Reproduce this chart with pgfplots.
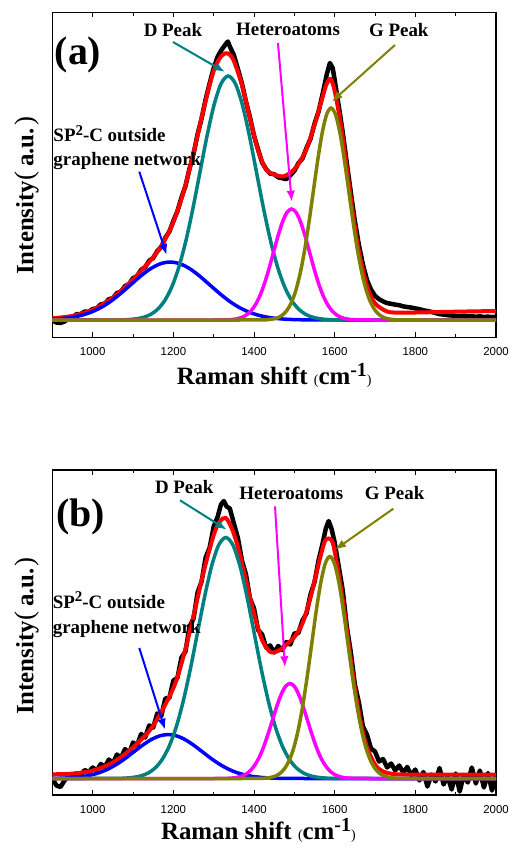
\documentclass[border=0pt]{standalone}
\usepackage{fontspec}
\setmainfont{Liberation Serif}
\newfontfamily\tickfont{Liberation Sans}
\usepackage{pgfplots}
\pgfplotsset{compat=1.18}
\usetikzlibrary{arrows.meta}

\definecolor{fitred}{RGB}{255,0,0}
\definecolor{fitblue}{RGB}{0,0,255}
\definecolor{fitteal}{RGB}{0,128,128}
\definecolor{fitmag}{RGB}{255,0,255}
\definecolor{fitolive}{RGB}{128,128,0}

\newcommand{\annfont}{\fontsize{19}{19}\selectfont\bfseries}
\newcommand{\axfont}{\fontsize{25}{25}\selectfont\bfseries}
\newcommand{\panelfont}{\fontsize{40}{40}\selectfont\bfseries}

\tikzset{ramanarrow/.style={line width=2bp, -{Latex[length=11bp,width=8.5bp]}}}

\pgfplotsset{
  raman/.style={
    scale only axis, width=443.6bp, height=325bp,
    xmin=900, xmax=2000,
    xtick={1000,1200,...,2000}, minor x tick num=1,
    ytick=\empty,
    minor ytick={-1.7,33.1,67.9,102.7,137.5,172.3,207.1,241.9,276.7},
    tick align=inside, xtick pos=both, ytick pos=both, xticklabel pos=bottom,
    major tick length=5bp, minor tick length=3.3bp,
    every tick/.style={black, line width=1bp},
    axis line style={line width=1.3bp},
    /pgf/number format/assume math mode=true,
    /pgf/number format/1000 sep={},
    xticklabel style={font=\tickfont\fontsize{11.5}{12}\selectfont, yshift=-6.5bp},
    clip mode=individual,
    ylabel={Intensity{\mdseries\fontsize{27}{27}\selectfont(}\hspace{5bp}a.u.\hspace{2bp}{\mdseries\fontsize{27}{27}\selectfont)}},
    ylabel style={font=\axfont, anchor=center},
    xlabel={Raman shift {\fontsize{14}{14}\selectfont\mdseries(}cm\raisebox{8bp}{\fontsize{20}{20}\selectfont -1}{\fontsize{14}{14}\selectfont\mdseries)}},
    xlabel style={font=\axfont, anchor=base},
  },
  ramandata/.style={black, line width=4.5bp, line join=round},
  ramanfit/.style={fitred, line width=4bp, smooth, tension=0.5},
  ramancomp/.style={line width=3.5bp, smooth, tension=0.5},
}

\begin{document}
\begin{tikzpicture}
\useasboundingbox (0,0) rectangle (510bp,-850bp);

% ---------------- panel (a) ----------------
\begin{axis}[raman, at={(52.4bp,-12.3bp)}, anchor=north west,
  ymin=-17.3, ymax=307.7,
  xlabel style={at={(axis description cs:0.5,-0.1437)}},
  ylabel style={at={(axis description cs:-0.0573,0.435)}}]

% measured spectrum
\addplot[ramandata] coordinates {
(900,-0.5) (910,-2.5) (920,-3.0) (930,-1.5) (940,1.5) (950,3.0) (960,5.8) (970,5.9)
(980,8.4) (990,8.2) (1000,11.0) (1010,11.8) (1020,15.6) (1030,16.4) (1040,20.8)
(1050,21.9) (1060,26.9) (1070,28.4) (1080,33.9) (1090,36.0) (1100,41.8) (1110,43.9)
(1120,50.2) (1130,52.8) (1140,59.3) (1150,62.1) (1160,68.9) (1170,73.0) (1180,82.2)
(1190,88.4) (1200,99.1) (1210,108.8) (1220,122.5) (1230,134.0) (1240,151.4)
(1250,166.2) (1260,185.7) (1270,201.5) (1280,220.8) (1290,236.7) (1300,252.0)
(1310,263.5) (1320,270.5) (1330,276.0) (1335,278.5) (1340,273.5) (1350,265.0)
(1360,251.0) (1370,236.5) (1380,218.5) (1390,202.5) (1400,184.2) (1410,170.5)
(1420,157.6) (1430,150.8) (1440,146.4) (1450,145.8) (1460,142.7) (1470,141.8)
(1480,140.9) (1490,144.6) (1500,149.2) (1510,156.8) (1520,161.5) (1530,171.9)
(1540,181.2) (1550,196.3) (1560,208.4) (1570,226.0) (1580,245.0) (1588,257.0)
(1595,252.0) (1600,240.0) (1610,214.0) (1620,187.5) (1630,157.0) (1640,127.5)
(1650,99.0) (1660,75.0) (1670,55.5) (1680,40.0) (1690,30.5) (1700,24.2) (1710,20.8)
(1720,18.6) (1730,16.9) (1740,16.2) (1750,15.4) (1760,14.8) (1770,13.6) (1780,13.0)
(1790,12.4) (1800,11.6) (1810,10.8) (1820,9.7) (1830,9.0) (1840,8.1) (1850,7.0)
(1860,5.9) (1870,5.4) (1880,4.8) (1890,4.5) (1900,4.0) (1910,3.6) (1920,4.2)
(1930,3.5) (1940,3.9) (1950,3.2) (1960,3.7) (1970,3.0) (1980,3.4) (1990,2.9) (2000,3.3)
};

% cumulative fit
\addplot[ramanfit] coordinates {
(900,1.7) (950,4.1) (1000,10.2) (1050,22.5) (1100,40.6) (1150,62.9) (1175,77.4)
(1200,98.0) (1225,127.6) (1250,167.0) (1275,211.1) (1300,249.3) (1320,264.5)
(1336,266.5) (1350,259) (1370,235.0) (1390,201.4) (1410,169.5) (1430,150.5)
(1450,145.5) (1470,143.5) (1490,147) (1510,156) (1530,171) (1550,195.1) (1570,223)
(1580,236) (1590,241) (1600,229) (1615,196) (1630,152) (1645,107) (1660,68.6)
(1680,34.1) (1700,16.7) (1730,8.5) (1760,7.4) (1800,7.5) (1900,8.3) (2000,9.0)
};

% sp2-C outside the graphene network
\addplot[ramancomp, fitblue] coordinates {
(898,0.64) (922.5,1.32) (947,2.55) (971.5,4.62) (996,7.85) (1020.5,12.5) (1045,18.8)
(1069.5,26.6) (1094,35.2) (1118.5,43.8) (1143,51.2) (1167.5,56.2) (1192,58)
(1216.5,56.2) (1241,51.2) (1265.5,43.8) (1290,35.2) (1314.5,26.6) (1339,18.8)
(1363.5,12.5) (1388,7.85) (1412.5,4.62) (1437,2.55) (1461.5,1.32) (1486,0.64)
(1510.5,0.30) (1535,0.13) (1584,0.02) (1700,0) (2000,0)
};

% D band
\addplot[ramancomp, fitteal] coordinates {
(900,0) (1056,0.07) (1091,0.54) (1108.5,1.24) (1126,2.71) (1143.5,5.56) (1161,10.7)
(1178.5,19.4) (1196,33.0) (1213.5,52.8) (1231,79.2) (1248.5,111.7) (1266,148.0)
(1283.5,184.2) (1301,215.3) (1318.5,236.5) (1336,244) (1353.5,236.5) (1371,215.3)
(1388.5,184.2) (1406,148.0) (1423.5,111.7) (1441,79.2) (1458.5,52.8) (1476,33.0)
(1493.5,19.4) (1511,10.7) (1528.5,5.56) (1546,2.71) (1563.5,1.24) (1581,0.54)
(1616,0.07) (1800,0) (2000,0)
};

% heteroatom band
\addplot[ramancomp, fitmag] coordinates {
(900,0) (1250,0) (1313,0.03) (1335.5,0.24) (1346.75,0.56) (1358,1.23) (1369.25,2.53)
(1380.5,4.87) (1391.75,8.84) (1403,15.0) (1414.25,24.0) (1425.5,36.0) (1436.75,50.8)
(1448,67.3) (1459.25,83.8) (1470.5,98.0) (1481.75,107.6) (1493,111) (1504.25,107.6)
(1515.5,98.0) (1526.75,83.8) (1538,67.3) (1549.25,50.8) (1560.5,36.0) (1571.75,24.0)
(1583,15.0) (1594.25,8.84) (1605.5,4.87) (1616.75,2.53) (1628,1.23) (1639.25,0.56)
(1650.5,0.24) (1673,0.03) (1750,0) (2000,0)
};

% G band
\addplot[ramancomp, fitolive] coordinates {
(900,0) (1300,0) (1415,0.06) (1437,0.47) (1448,1.08) (1459,2.35) (1470,4.83)
(1481,9.31) (1492,16.9) (1503,28.7) (1514,45.9) (1525,68.8) (1536,97.1) (1547,128.6)
(1558,160.0) (1569,187.1) (1580,205.5) (1591,212) (1602,205.5) (1613,187.1)
(1624,160.0) (1635,128.6) (1646,97.1) (1657,68.8) (1668,45.9) (1679,28.7) (1690,16.9)
(1701,9.31) (1712,4.83) (1723,2.35) (1734,1.08) (1745,0.47) (1767,0.06) (1850,0) (2000,0)
};

\node[font=\panelfont, anchor=center] at (axis cs:963.5,265) {(a)};
\node[font=\annfont, anchor=base] at (axis cs:1199,283.3) {D Peak};
\node[font=\annfont, anchor=base] at (axis cs:1484.2,284.3) {Heteroatoms};
\node[font=\annfont, anchor=base] at (axis cs:1759,283.3) {G Peak};
\node[font=\annfont, anchor=base west, inner sep=0pt] at (axis cs:902.2,178.3)
  {SP\raisebox{6.5bp}{\fontsize{15}{15}\selectfont 2}-C outside};
\node[font=\annfont, anchor=base west, inner sep=0pt] at (axis cs:902.2,155)
  {graphene network};

\draw[ramanarrow, fitteal] (axis cs:1199,278) -- (axis cs:1328,248);
\draw[ramanarrow, fitmag] (axis cs:1459.3,277) -- (axis cs:1493.4,118.3);
\draw[ramanarrow, fitolive] (axis cs:1749.5,275) -- (axis cs:1592.5,218.3);
\draw[ramanarrow, fitblue] (axis cs:1115.5,148.3) -- (axis cs:1183.4,65);
\end{axis}

% ---------------- panel (b) ----------------
\begin{axis}[raman, at={(52.4bp,-470bp)}, anchor=north west,
  ymin=-16.5, ymax=308.5,
  xlabel style={at={(axis description cs:0.4643,-0.1354)}},
  ylabel style={at={(axis description cs:-0.0573,0.489)}}]

% measured spectrum
\addplot[ramandata] coordinates {
(900,1.0) (905,-3.5) (910,-7.0) (920,-8.5) (930,-2.0) (940,2.5) (950,1.0) (960,5.5)
(970,3.0) (980,8.5) (990,6.5) (1000,11.0) (1010,8.0) (1020,14.5) (1030,11.5)
(1040,19.0) (1050,15.0) (1060,24.0) (1070,20.5) (1080,29.5) (1090,25.0) (1100,36.0)
(1110,33.0) (1120,44.5) (1130,41.0) (1140,53.0) (1150,51.0) (1160,65.0) (1170,62.5)
(1180,80.0) (1190,80.5) (1200,98.0) (1210,100.5) (1220,121.0) (1230,127.0)
(1240,152.0) (1250,160.0) (1260,186.0) (1270,197.0) (1280,221.0) (1290,231.0)
(1300,252.0) (1310,262.0) (1318,274.0) (1325,277.5) (1332,272.0) (1340,270.0)
(1350,255.0) (1360,240.5) (1370,218.0) (1380,204.0) (1390,180.0) (1400,170.0)
(1410,148.5) (1420,144.0) (1430,131.0) (1440,133.0) (1450,126.0) (1460,132.5)
(1470,128.5) (1480,136.5) (1490,134.0) (1500,145.0) (1510,145.5) (1520,158.0)
(1530,165.0) (1540,184.0) (1550,196.5) (1560,218.0) (1570,235.0) (1578,250.0)
(1585,257.5) (1592,250.0) (1600,236.0) (1610,212.0) (1620,188.0) (1630,152.0)
(1640,126.0) (1650,94.0) (1660,76.0) (1670,52.0) (1680,44.0) (1690,30.0) (1700,27.0)
(1710,17.0) (1720,19.5) (1730,11.0) (1740,15.0) (1750,8.0) (1760,13.0) (1770,6.0)
(1780,11.5) (1790,3.0) (1800,9.0) (1810,-2.0) (1820,6.5) (1830,-8.0) (1840,4.0)
(1850,-3.0) (1860,10.5) (1870,-6.0) (1880,2.0) (1890,-11.0) (1900,5.0) (1910,-13.0)
(1920,3.5) (1930,-4.0) (1940,11.0) (1950,-5.0) (1960,8.0) (1970,-9.0) (1980,5.5)
(1990,-12.0) (2000,3.0)
};

% cumulative fit
\addplot[ramanfit] coordinates {
(900,4.2) (950,4.9) (1000,7.9) (1050,16.1) (1100,31.2) (1150,52.8) (1200,90.5)
(1225,122.1) (1250,162.8) (1275,206.7) (1300,243.5) (1315,257) (1330,260.5)
(1345,250) (1360,231.5) (1380,198.4) (1400,164.4) (1420,138.5) (1440,126.7)
(1460,127.6) (1480,133.8) (1500,141.5) (1520,155) (1540,180.9) (1560,214.5)
(1575,236.5) (1585,240) (1595,236) (1605,216) (1620,178.5) (1635,133.5) (1650,90)
(1665,55.3) (1680,31.5) (1700,14) (1720,7) (1750,4.3) (1800,4) (1900,4) (2000,4)
};

% sp2-C outside the graphene network
\addplot[ramancomp, fitblue] coordinates {
(889.5,0.10) (910.75,0.22) (932,0.49) (953.25,1.00) (974.5,1.93) (995.75,3.50)
(1017,5.95) (1038.25,9.52) (1059.5,14.3) (1080.75,20.1) (1102,26.7) (1123.25,33.2)
(1144.5,38.8) (1165.75,42.6) (1187,44) (1208.25,42.6) (1229.5,38.8) (1250.75,33.2)
(1272,26.7) (1293.25,20.1) (1314.5,14.3) (1335.75,9.52) (1357,5.95) (1378.25,3.50)
(1399.5,1.93) (1420.75,1.00) (1442,0.49) (1463.25,0.22) (1484.5,0.10) (1527,0.01)
(1700,0) (2000,0)
};

% D band
\addplot[ramancomp, fitteal] coordinates {
(900,0) (1050,0.07) (1085,0.53) (1102.5,1.23) (1120,2.68) (1137.5,5.49) (1155,10.6)
(1172.5,19.2) (1190,32.6) (1207.5,52.1) (1225,78.3) (1242.5,110.3) (1260,146.2)
(1277.5,181.9) (1295,212.7) (1312.5,233.6) (1330,241) (1347.5,233.6) (1365,212.7)
(1382.5,181.9) (1400,146.2) (1417.5,110.3) (1435,78.3) (1452.5,52.1) (1470,32.6)
(1487.5,19.2) (1505,10.6) (1522.5,5.49) (1540,2.68) (1557.5,1.23) (1575,0.53)
(1610,0.07) (1800,0) (2000,0)
};

% heteroatom band
\addplot[ramancomp, fitmag] coordinates {
(900,0) (1250,0) (1313,0.03) (1335,0.21) (1346,0.48) (1357,1.05) (1368,2.17)
(1379,4.17) (1390,7.56) (1401,12.9) (1412,20.5) (1423,30.8) (1434,43.5) (1445,57.6)
(1456,71.7) (1467,83.8) (1478,92.1) (1489,95) (1500,92.1) (1511,83.8) (1522,71.7)
(1533,57.6) (1544,43.5) (1555,30.8) (1566,20.5) (1577,12.9) (1588,7.56) (1599,4.17)
(1610,2.17) (1621,1.05) (1632,0.48) (1643,0.21) (1665,0.03) (1750,0) (2000,0)
};

% G band
\addplot[ramancomp, fitolive] coordinates {
(900,0) (1300,0) (1408,0.07) (1430.5,0.49) (1441.75,1.13) (1453,2.46) (1464.25,5.06)
(1475.5,9.75) (1486.75,17.7) (1498,30.0) (1509.25,48.0) (1520.5,72.1) (1531.75,101.6)
(1543,134.6) (1554.25,167.6) (1565.5,195.9) (1576.75,215.2) (1588,222) (1599.25,215.2)
(1610.5,195.9) (1621.75,167.6) (1633,134.6) (1644.25,101.6) (1655.5,72.1)
(1666.75,48.0) (1678,30.0) (1689.25,17.7) (1700.5,9.75) (1711.75,5.06) (1723,2.46)
(1734.25,1.13) (1745.5,0.49) (1768,0.07) (1850,0) (2000,0)
};

\node[font=\panelfont, anchor=center] at (axis cs:970.4,261.5) {(b)};
\node[font=\annfont, anchor=base] at (axis cs:1226.8,285.5) {D Peak};
\node[font=\annfont, anchor=base] at (axis cs:1492.4,279.5) {Heteroatoms};
\node[font=\annfont, anchor=base] at (axis cs:1748.7,279.5) {G Peak};
\node[font=\annfont, anchor=base west, inner sep=0pt] at (axis cs:900.5,170.5)
  {SP\raisebox{6.5bp}{\fontsize{15}{15}\selectfont 2}-C outside};
\node[font=\annfont, anchor=base west, inner sep=0pt] at (axis cs:900.5,145.5)
  {graphene network};

\draw[ramanarrow, fitteal] (axis cs:1216.4,278.2) -- (axis cs:1332.2,248.8);
\draw[ramanarrow, fitmag] (axis cs:1452,272.2) -- (axis cs:1476.7,111.2);
\draw[ramanarrow, fitolive] (axis cs:1745.3,269.8) -- (axis cs:1600.7,228.8);
\draw[ramanarrow, fitblue] (axis cs:1115.5,130.5) -- (axis cs:1179.2,48.8);
\end{axis}
\end{tikzpicture}
\end{document}
